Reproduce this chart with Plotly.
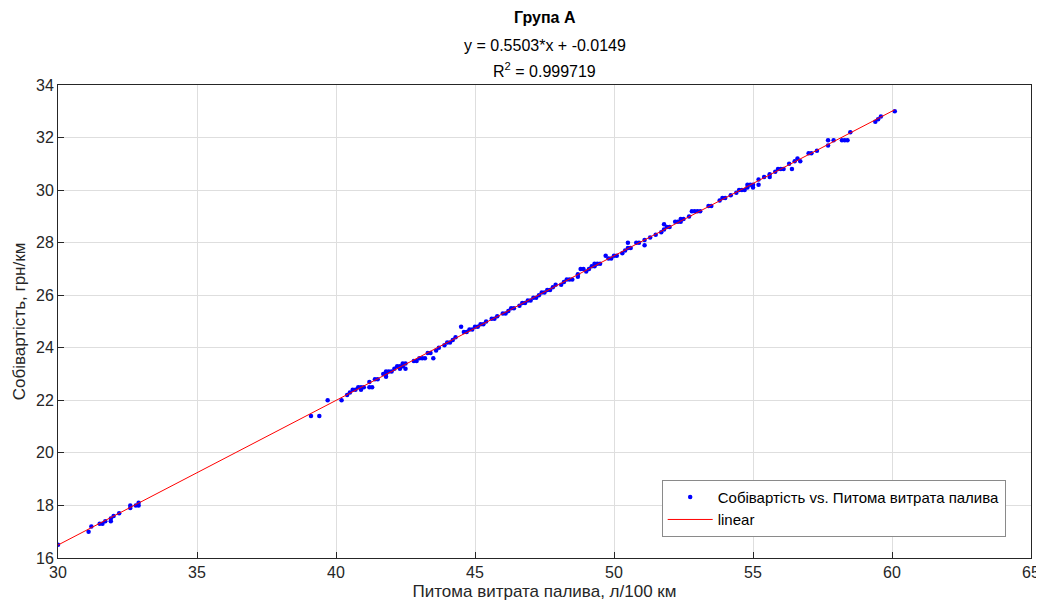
import plotly.graph_objects as go

# Observed data: specific fuel consumption (l/100 km) vs cost (UAH/km)
fuel = [30.0, 31.1, 31.2, 31.5, 31.6, 31.7, 31.9, 31.9, 32.0, 32.2, 32.6, 32.6, 32.8, 32.9, 32.9,
        39.1, 39.4, 39.7, 40.2, 40.4, 40.5, 40.6, 40.7, 40.8, 40.9, 41.0, 40.9,
        41.2, 41.3, 41.2, 41.4, 41.5, 41.7, 41.8, 41.8, 41.9, 41.8, 42.0,
        42.1, 42.2, 42.3, 42.4, 42.5, 42.4, 42.3, 42.5,
        42.8, 42.9, 43.0, 43.1, 43.2, 43.5, 43.3, 43.4,
        43.6, 43.7, 43.9, 44.0, 44.1, 44.2, 44.3, 44.5,
        44.6, 44.7, 44.8, 44.9, 45.0, 45.1, 45.2, 45.3, 45.4,
        45.6, 45.7, 45.8, 46.0, 46.1, 46.2, 46.3, 46.4, 46.6, 46.7, 46.8, 46.9, 47.0, 47.1, 47.2,
        47.3, 47.4, 47.5, 47.6, 47.7, 47.8, 47.9, 48.1, 48.2, 48.3, 48.4, 48.5, 48.7, 48.7,
        48.8, 48.9, 49.0, 49.1, 49.2, 49.3, 49.4, 49.3, 49.5, 49.7,
        49.8, 49.9, 50.0, 50.1, 50.3, 50.4, 50.5, 50.6, 50.5,
        50.8, 50.9, 51.1, 51.1, 51.3, 51.5, 51.7, 51.8, 51.8, 51.9, 52.0,
        52.2, 52.3, 52.4, 52.4, 52.5, 52.7, 52.8, 52.9, 53.0, 53.1,
        53.4, 53.5, 53.8, 53.9, 54.0, 54.2, 54.4, 54.6,
        54.5, 54.7, 54.8, 54.8, 54.9, 55.0, 55.0, 55.2, 55.2,
        55.4, 55.6, 55.6, 55.8, 55.9, 56.0, 56.1,
        56.3, 56.4, 56.5, 56.6, 56.7, 57.0, 57.1, 57.3,
        57.7, 57.7, 57.9, 58.2, 58.3, 58.4, 58.5,
        59.4, 59.5, 59.6, 60.1]
cost = [16.5, 17.0, 17.2, 17.3, 17.3, 17.4, 17.4, 17.5, 17.6, 17.7, 18.0, 17.9, 18.0, 18.1, 18.0,
        21.4, 21.4, 22.0, 22.0, 22.2, 22.3, 22.4, 22.4, 22.5, 22.5, 22.5, 22.4,
        22.5, 22.5, 22.7, 22.8, 22.8, 23.0, 22.9, 23.1, 23.1, 23.0, 23.1,
        23.2, 23.3, 23.3, 23.4, 23.4, 23.3, 23.2, 23.2,
        23.5, 23.5, 23.6, 23.6, 23.6, 23.6, 23.8, 23.8,
        23.9, 24.0, 24.1, 24.2, 24.2, 24.3, 24.4, 24.8,
        24.6, 24.6, 24.7, 24.7, 24.8, 24.8, 24.9, 24.9, 25.0,
        25.1, 25.1, 25.2, 25.3, 25.3, 25.4, 25.5, 25.5, 25.6, 25.7, 25.7, 25.8, 25.8, 25.9, 25.9,
        26.0, 26.1, 26.1, 26.2, 26.2, 26.3, 26.4, 26.4, 26.5, 26.6, 26.6, 26.6, 26.7, 26.8,
        27.0, 27.0, 26.9, 27.0, 27.1, 27.2, 27.2, 27.1, 27.2, 27.5,
        27.4, 27.4, 27.5, 27.5, 27.6, 27.7, 27.8, 27.8, 28.0,
        28.0, 28.0, 28.1, 27.9, 28.2, 28.3, 28.4, 28.5, 28.7, 28.6, 28.6,
        28.8, 28.8, 28.8, 28.9, 28.9, 29.0, 29.2, 29.2, 29.2, 29.2,
        29.4, 29.4, 29.6, 29.7, 29.7, 29.8, 29.9, 30.0,
        30.0, 30.0, 30.1, 30.2, 30.2, 30.1, 30.2, 30.4, 30.2,
        30.5, 30.6, 30.5, 30.7, 30.8, 30.8, 30.8,
        31.0, 30.8, 31.1, 31.2, 31.1, 31.4, 31.4, 31.5,
        31.7, 31.9, 31.9, 31.9, 31.9, 31.9, 32.2,
        32.6, 32.7, 32.8, 33.0]

# Linear fit coefficients (from the chart title)
slope = 0.5503
intercept = -0.0149
r_squared = 0.999719
fit_x = [30.0, 60.1]
fit_y = [slope * v + intercept for v in fit_x]

x_ticks = [30, 35, 40, 45, 50, 55, 60, 65]
y_ticks = [16, 18, 20, 22, 24, 26, 28, 30, 32, 34]

FONT = "Liberation Sans, Arial, sans-serif"
TXT = "#262626"

fig = go.Figure()
fig.add_trace(go.Scatter(
    x=fuel, y=cost, mode="markers",
    marker=dict(color="#0000ff", size=4.5, line=dict(width=0)),
    name="Собівартість vs. Питома витрата палива"))
fig.add_trace(go.Scatter(
    x=fit_x, y=fit_y, mode="lines",
    line=dict(color="#ff0000", width=1),
    name="linear"))

axis_common = dict(
    showgrid=True, gridcolor="#dedede", gridwidth=1,
    showline=True, linecolor=TXT, linewidth=1, mirror=True,
    ticks="inside", ticklen=6, tickcolor=TXT,
    zeroline=False, automargin=False,
    tickfont=dict(family=FONT, size=16, color=TXT),
)

# page body has an 8px margin, so the figure is sized to fit the window
fig.update_layout(
    width=1036, height=601,
    margin=dict(l=50, r=13, t=77, b=51),
    paper_bgcolor="white", plot_bgcolor="white",
    font=dict(family=FONT, color=TXT),
    xaxis=dict(range=[30, 65], tickvals=x_ticks,
               title=dict(text="Питома витрата палива, л/100 км",
                          font=dict(family=FONT, size=17, color=TXT), standoff=4),
               **axis_common),
    yaxis=dict(range=[16, 34], tickvals=y_ticks,
               title=dict(text="Собівартість, грн/км",
                          font=dict(family=FONT, size=17, color=TXT), standoff=6),
               **axis_common),
    legend=dict(x=0.974, y=0.045, xanchor="right", yanchor="bottom",
                bgcolor="white", bordercolor="#8a8a8a", borderwidth=1,
                font=dict(family=FONT, size=15, color="#000000"),
                tracegroupgap=0, itemwidth=45),
    showlegend=True,
)

fig.add_annotation(text="<b>Група А</b>", xref="paper", yref="paper",
                   x=0.5, y=1, yshift=68, showarrow=False, yanchor="middle",
                   font=dict(family=FONT, size=16, color="#000000"))
fig.add_annotation(text=f"y = {slope}*x + {intercept}", xref="paper", yref="paper",
                   x=0.5, y=1, yshift=40, showarrow=False, yanchor="middle",
                   font=dict(family=FONT, size=16, color="#000000"))
fig.add_annotation(text=f"R<sup>2</sup> = {r_squared}", xref="paper", yref="paper",
                   x=0.5, y=1, yshift=15, showarrow=False, yanchor="middle",
                   font=dict(family=FONT, size=16, color="#000000"))

fig.write_html("out.html")
